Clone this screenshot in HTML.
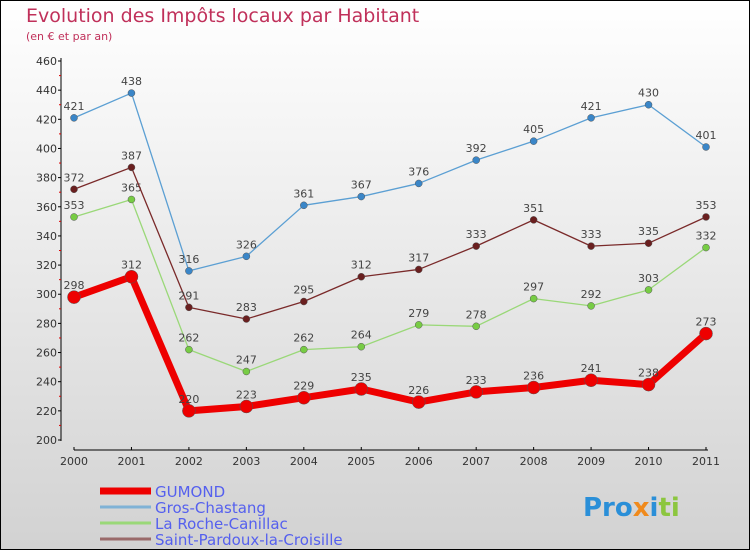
<!DOCTYPE html>
<html><head><meta charset="utf-8"><style>
body{margin:0}
#c{width:750px;height:550px;position:relative;font-family:"DejaVu Sans","Liberation Sans",sans-serif}
</style></head><body>
<div id="c">
<svg id="s" width="750" height="550" xmlns="http://www.w3.org/2000/svg">
<defs><linearGradient id="bg" x1="0" y1="0" x2="0" y2="1"><stop offset="0" stop-color="#ffffff"/><stop offset="1" stop-color="#d2d2d2"/></linearGradient></defs>
<rect x="0.5" y="0.5" width="749" height="549" fill="url(#bg)" stroke="#000"/>
<text x="26" y="22" font-size="19" fill="#c0305a">Evolution des Impôts locaux par Habitant</text>
<text x="26" y="40" font-size="11" fill="#c0305a">(en € et par an)</text>
<g id="axes"></g><g id="series"></g><g id="legend"></g>
<text x="583" y="516" font-size="26" font-weight="bold"><tspan fill="#2a8fd8">Pro</tspan><tspan fill="#f08a1c">x</tspan><tspan fill="#2a8fd8">i</tspan><tspan fill="#8cc63f">ti</tspan></text>
</svg>
</div>
<script>
const years=["2000","2001","2002","2003","2004","2005","2006","2007","2008","2009","2010","2011"];
const yTicks=[200,220,240,260,280,300,320,340,360,380,400,420,440,460];
const gumond=[298,312,220,223,229,235,226,233,236,241,238,273];
const grosChastang=[421,438,316,326,361,367,376,392,405,421,430,401];
const laRoche=[353,365,262,247,262,264,279,278,297,292,303,332];
const saintPardoux=[372,387,291,283,295,312,317,333,351,333,335,353];
const seriesNames=["GUMOND","Gros-Chastang","La Roche-Canillac","Saint-Pardoux-la-Croisille"];
const NS="http://www.w3.org/2000/svg";
const X=i=>74+i*(706-74)/11;
const Y=v=>440-(v-200)*(440-61)/260;
function mk(p,t,a){const e=document.createElementNS(NS,t);for(const k in a)e.setAttribute(k,a[k]);p.appendChild(e);return e;}
const ax=document.getElementById('axes');
let yl=mk(ax,'line',{x1:61,y1:58,x2:61,y2:441,stroke:'#000'});

yTicks.forEach((v,i)=>{mk(ax,'line',{x1:58,x2:61,y1:Y(v),y2:Y(v),stroke:'#000'});
 if(i<yTicks.length-1)mk(ax,'line',{x1:59,x2:61,y1:Y(v+10),y2:Y(v+10),stroke:'#d00'});
 const t=mk(ax,'text',{x:57,y:Y(v)+4,'font-size':11,fill:'#333','text-anchor':'end'});t.textContent=v;
 });
let xl=mk(ax,'line',{x1:74,y1:450,x2:708,y2:450,stroke:'#000'});

years.forEach((y,i)=>{mk(ax,'line',{x1:X(i),x2:X(i),y1:447,y2:450,stroke:'#000'});
 const t=mk(ax,'text',{x:X(i),y:465,'font-size':11,fill:'#333','text-anchor':'middle'});t.textContent=y;
 });
const sg=document.getElementById('series');
function draw(data,color,dot,w,r,name){
 const g=mk(sg,'g',{});
 mk(g,'polyline',{points:data.map((v,i)=>X(i)+','+Y(v)).join(' '),fill:'none',stroke:color,'stroke-width':w,'stroke-linejoin':'round'});
 data.forEach((v,i)=>{const c=mk(g,'circle',{cx:X(i),cy:Y(v),r:r,fill:dot,stroke:'#555','stroke-width':0.5});
  
  const t=mk(g,'text',{x:X(i),y:Y(v)-8,'font-size':11,fill:'#444','text-anchor':'middle'});t.textContent=v;
  });
}
draw(laRoche,'#9ad878','#77cc44',1.3,3.5,'series-la-roche-canillac');
draw(saintPardoux,'#7a2a2a','#6a1f1f',1.3,3.5,'series-saint-pardoux');
draw(grosChastang,'#5b9fd3','#3a86c8',1.3,3.5,'series-gros-chastang');
draw(gumond,'#ee0000','#ee0000',7,6.5,'series-gumond');
const lg=document.getElementById('legend');
const lc=['#ee0000','#7fb2d6','#9ad878','#9a6a6a'],lw=[7,3,3,3];
seriesNames.forEach((n,i)=>{const yy=491+i*16;
 const g=mk(lg,'g',{});
 mk(g,'line',{x1:100,x2:151,y1:yy,y2:yy,stroke:lc[i],'stroke-width':lw[i]});
 const t=mk(g,'text',{x:155,y:yy+6,'font-size':15,fill:'#5560ee'});t.textContent=n;});
</script>
</body></html>
